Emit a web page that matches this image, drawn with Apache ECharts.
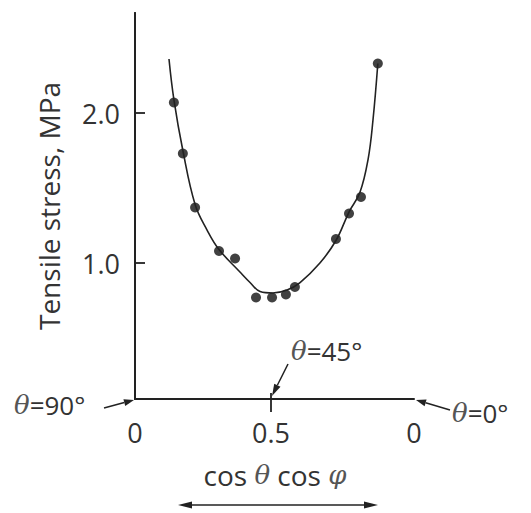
<!DOCTYPE html>
<html>
<head>
<meta charset="utf-8">
<script src="https://cdn.jsdelivr.net/npm/echarts@6/dist/echarts.min.js"></script>
<style>
  html, body { margin: 0; padding: 0; background: #fff; }
  #main { width: 531px; height: 513px; }
</style>
</head>
<body>
<div id="main"></div>
<script>
// measured points (x = cos θ cos φ position, y = tensile stress MPa)
const ptX = [0.143, 0.176, 0.221, 0.309, 0.368, 0.445, 0.504, 0.555, 0.588, 0.739, 0.787, 0.831, 0.893];
const ptY = [2.07, 1.73, 1.37, 1.08, 1.03, 0.77, 0.77, 0.79, 0.84, 1.16, 1.33, 1.44, 2.33];
// drawn curve
const fitX = [0.125, 0.143, 0.176, 0.221, 0.265, 0.309, 0.386, 0.423, 0.460, 0.507, 0.559, 0.607, 0.680, 0.739, 0.787, 0.827, 0.857, 0.875, 0.893];
const fitY = [2.36, 2.09, 1.75, 1.39, 1.22, 1.09, 0.94, 0.87, 0.81, 0.80, 0.82, 0.87, 1.00, 1.15, 1.34, 1.47, 1.69, 1.95, 2.33];
// ticks
const xMax = 1.026;
const xTickVals = [0, 0.5, xMax];
const xTickText = ['0', '0.5', '0'];
const yTickVals = [1, 2];
const yTickText = ['1.0', '2.0'];

const FONT = 'Open Sans';
const INK = '#222';

var myChart = echarts.init(document.getElementById('main'), null, { renderer: 'svg' });

function arrow(x1, y1, x2, y2, head) {
    // line from (x1,y1) to tip (x2,y2) with filled head
    let a = Math.atan2(y2 - y1, x2 - x1);
    let h = head || 10, w = 3.5;
    let bx = x2 - h * Math.cos(a), by = y2 - h * Math.sin(a);
    return [
        { type: 'line', shape: { x1: x1, y1: y1, x2: bx, y2: by }, style: { stroke: INK, lineWidth: 1.5 } },
        { type: 'polygon', shape: { points: [[x2, y2], [bx + w * Math.sin(a), by - w * Math.cos(a)], [bx - w * Math.sin(a), by + w * Math.cos(a)]] }, style: { fill: INK } }
    ];
}

const italic = { fontStyle: 'italic', fontSize: 26, fontFamily: 'DejaVu Serif', fill: '#555' };

function label(x, y, txt, align) {
    return {
        type: 'text', x: x, y: y,
        style: {
            text: txt, fill: '#333', font: '26px "' + FONT + '"',
            align: align || 'left', verticalAlign: 'middle',
            rich: { i: italic }
        }
    };
}

var gfx = [];
gfx.push(label(14, 405, '{i|θ}=90°'));
gfx = gfx.concat(arrow(104, 408, 134, 400, 10));
gfx.push(label(452, 413, '{i|θ}=0°'));
gfx = gfx.concat(arrow(450, 410, 416, 400, 10));
gfx.push(label(291, 351, '{i|θ}=45°'));
gfx = gfx.concat(arrow(288, 364, 272, 396, 12));
gfx.push({
    type: 'text', x: 275, y: 475,
    style: {
        text: 'cos {i|θ} cos {i|φ}', fill: '#333', font: '28px "' + FONT + '"',
        align: 'center', verticalAlign: 'middle',
        rich: { i: { fontStyle: 'italic', fontSize: 26, fontFamily: 'DejaVu Serif', fill: '#555' } }
    }
});
gfx = gfx.concat(arrow(280, 505, 378, 505, 14));
gfx = gfx.concat(arrow(280, 505, 178, 505, 14));

var option = {
    animation: false,
    grid: { left: 135, right: 117, top: 13, bottom: 114 },
    xAxis: [
        {
            type: 'value', min: 0, max: xMax,
            splitLine: { show: false },
            axisLine: { lineStyle: { color: INK, width: 2 } },
            axisTick: { show: true, customValues: [0.5], length: 13, lineStyle: { color: INK, width: 1.8 } },
            axisLabel: {
                customValues: xTickVals, margin: 20,
                color: '#333', fontSize: 27, fontFamily: FONT,
                formatter: function (v) { return xTickText[xTickVals.indexOf(v)]; }
            }
        },
        {
            type: 'value', min: 0, max: xMax, position: 'bottom',
            splitLine: { show: false },
            axisLine: { show: false },
            axisTick: { show: true, inside: true, customValues: [0.5], length: 6, lineStyle: { color: INK, width: 1.8 } },
            axisLabel: { show: false }
        }
    ],
    yAxis: [
        {
            type: 'value', min: 0.0933, max: 2.667, position: 'left',
            name: 'Tensile stress, MPa', nameLocation: 'middle', nameGap: 72, nameRotate: 90,
            nameTextStyle: { color: '#333', fontSize: 28, fontFamily: FONT },
            splitLine: { show: false },
            axisLine: { show: true, lineStyle: { color: INK, width: 2 } },
            axisTick: { show: true, inside: true, customValues: yTickVals, length: 10, lineStyle: { color: INK, width: 1.8 } },
            axisLabel: {
                customValues: yTickVals, margin: 15,
                color: '#333', fontSize: 27, fontFamily: FONT,
                formatter: function (v) { return yTickText[yTickVals.indexOf(v)]; }
            }
        },
        {
            type: 'value', min: 0.0933, max: 2.667, position: 'right',
            splitLine: { show: false },
            axisLine: { show: true, lineStyle: { color: INK, width: 2 } },
            axisTick: { show: false },
            axisLabel: { show: false }
        }
    ],
    series: [
        {
            type: 'line', smooth: 0.4, symbol: 'none',
            data: fitX.map((x, i) => [x, fitY[i]]),
            lineStyle: { color: INK, width: 1.6 }
        },
        {
            type: 'scatter', symbol: 'circle', symbolSize: 10,
            data: ptX.map((x, i) => [x, ptY[i]]),
            itemStyle: { color: '#111' }
        }
    ],
    graphic: gfx
};
myChart.setOption(option);
</script>
</body>
</html>
